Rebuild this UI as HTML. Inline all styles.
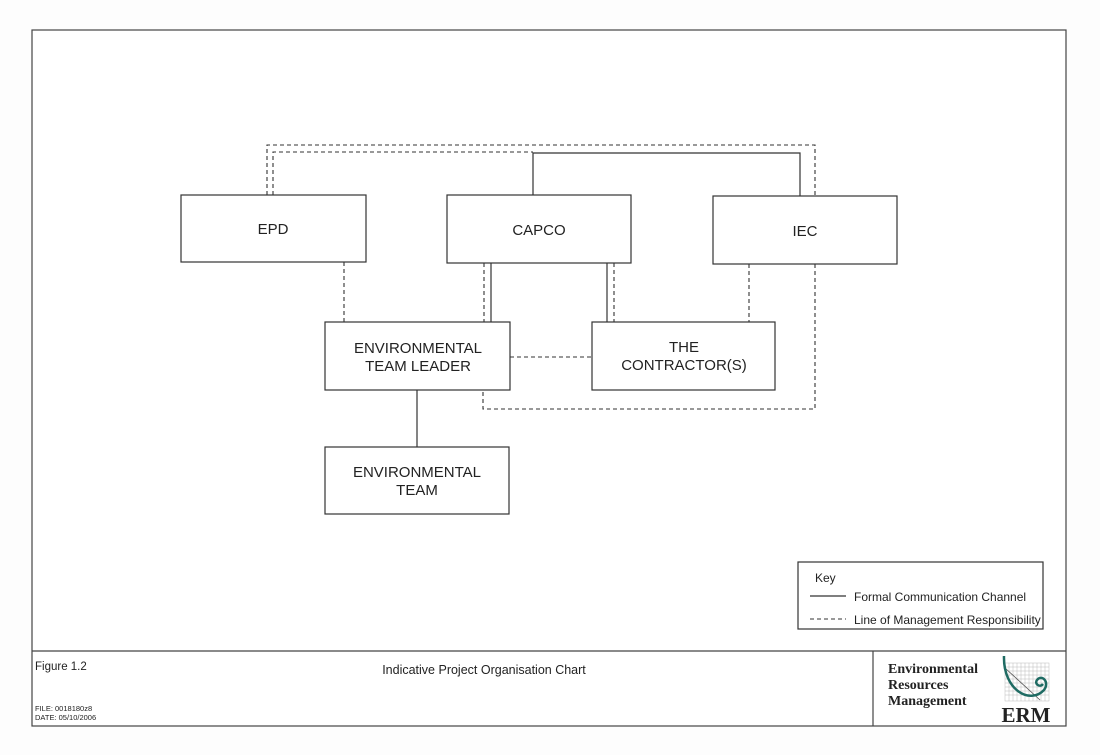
<!DOCTYPE html>
<html><head><meta charset="utf-8"><style>
html,body{margin:0;padding:0;background:#fff;}
svg{display:block;}
text{font-family:"Liberation Sans",Arial,sans-serif;fill:#222;}
.s{fill:none;stroke:#333;stroke-width:1.2;}
.d{fill:none;stroke:#333;stroke-width:1.1;stroke-dasharray:4,3;}
.b{fill:#fff;stroke:#333;stroke-width:1.2;}
</style></head><body>
<svg width="1100" height="755" viewBox="0 0 1100 755" xmlns="http://www.w3.org/2000/svg">
<rect x="0" y="0" width="1100" height="755" fill="#fdfdfd"/>
<rect x="32" y="30" width="1034" height="696" fill="#fff" stroke="#444" stroke-width="1.2"/>
<line x1="32" y1="651" x2="1066" y2="651" stroke="#444" stroke-width="1.2"/>
<line x1="873" y1="651" x2="873" y2="726" stroke="#444" stroke-width="1.2"/>

<polyline class="d" points="267,195 267,145 815,145 815,196"/>
<polyline class="d" points="273,195 273,152 533,152"/>
<polyline class="s" points="533,195 533,153 800,153 800,196"/>
<line class="d" x1="344" y1="262" x2="344" y2="322"/>
<line class="d" x1="484" y1="263" x2="484" y2="322"/>
<line class="s" x1="491" y1="263" x2="491" y2="322"/>
<line class="s" x1="607" y1="263" x2="607" y2="322"/>
<line class="d" x1="614" y1="263" x2="614" y2="322"/>
<line class="d" x1="749" y1="264" x2="749" y2="322"/>
<polyline class="d" points="815,264 815,409 483,409 483,390"/>
<line class="d" x1="510" y1="357" x2="592" y2="357"/>
<line class="s" x1="417" y1="390" x2="417" y2="447"/>

<rect class="b" x="181" y="195" width="185" height="67"/>
<text x="273" y="234" font-size="15" text-anchor="middle">EPD</text>
<rect class="b" x="447" y="195" width="184" height="68"/>
<text x="539" y="235" font-size="15" text-anchor="middle">CAPCO</text>
<rect class="b" x="713" y="196" width="184" height="68"/>
<text x="805" y="236" font-size="15" text-anchor="middle">IEC</text>
<rect class="b" x="325" y="322" width="185" height="68"/>
<text x="418" y="353" font-size="15" text-anchor="middle">ENVIRONMENTAL</text>
<text x="418" y="371" font-size="15" text-anchor="middle">TEAM LEADER</text>
<rect class="b" x="592" y="322" width="183" height="68"/>
<text x="684" y="352" font-size="15" text-anchor="middle">THE</text>
<text x="684" y="370" font-size="15" text-anchor="middle">CONTRACTOR(S)</text>
<rect class="b" x="325" y="447" width="184" height="67"/>
<text x="417" y="477" font-size="15" text-anchor="middle">ENVIRONMENTAL</text>
<text x="417" y="495" font-size="15" text-anchor="middle">TEAM</text>

<rect class="b" x="798" y="562" width="245" height="67"/>
<text x="815" y="582" font-size="12">Key</text>
<line class="s" x1="810" y1="596" x2="846" y2="596"/>
<text x="854" y="601" font-size="12">Formal Communication Channel</text>
<line class="d" x1="810" y1="619" x2="846" y2="619"/>
<text x="854" y="624" font-size="12">Line of Management Responsibility</text>

<text x="35" y="670" font-size="11.5">Figure 1.2</text>
<text x="484" y="674" font-size="12.5" text-anchor="middle">Indicative Project Organisation Chart</text>
<text x="35" y="711" font-size="7.5">FILE: 0018180z8</text>
<text x="35" y="720" font-size="7.5">DATE: 05/10/2006</text>
<text x="888" y="673" font-size="14" font-weight="bold" style="font-family:'Liberation Serif',serif">Environmental</text>
<text x="888" y="689" font-size="14" font-weight="bold" style="font-family:'Liberation Serif',serif">Resources</text>
<text x="888" y="705" font-size="14" font-weight="bold" style="font-family:'Liberation Serif',serif">Management</text>
<g stroke="#bbb" stroke-width="0.5">
<rect x="1005" y="663" width="44" height="38" fill="none"/>
<path d="M1009,663V701M1013,663V701M1017,663V701M1021,663V701M1025,663V701M1029,663V701M1033,663V701M1037,663V701M1041,663V701M1045,663V701M1005,667H1049M1005,671H1049M1005,675H1049M1005,679H1049M1005,683H1049M1005,687H1049M1005,691H1049M1005,695H1049"/>
</g>
<line x1="1005" y1="668" x2="1040" y2="700" stroke="#555" stroke-width="0.8"/>
<path d="M1004,656 C1003,690 1030,705 1044,690 C1050,682 1042,674 1037,680 C1034,684 1040,688 1043,684" fill="none" stroke="#1f6b63" stroke-width="2.5"/>
<text x="1026" y="722" font-size="21" font-weight="bold" text-anchor="middle" style="font-family:'Liberation Serif',serif">ERM</text>
</svg>
</body></html>
